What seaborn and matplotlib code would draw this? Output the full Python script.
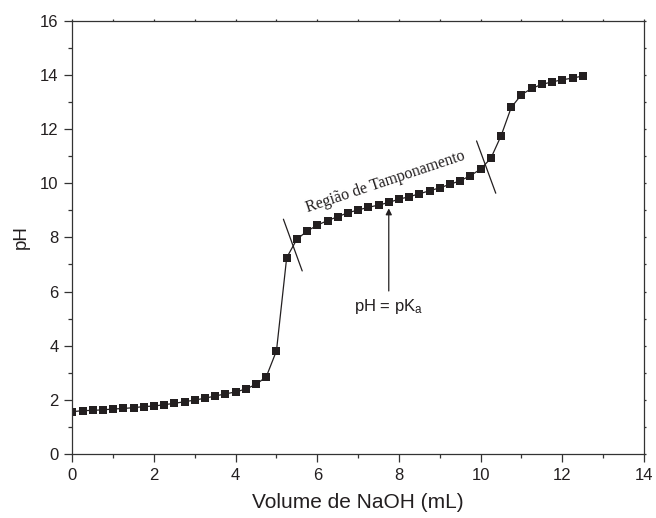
import matplotlib
matplotlib.use("Agg")
import matplotlib.pyplot as plt
import numpy as np
import pandas as pd
import seaborn as sns
from matplotlib.ticker import MultipleLocator

# Dados da curva de titulação (volume de NaOH em mL, pH)
volume = [0.0, 0.25, 0.5, 0.75, 1.0, 1.25, 1.5, 1.75, 2.0, 2.25,
          2.5, 2.75, 3.0, 3.25, 3.5, 3.75, 4.0, 4.25, 4.5, 4.75,
          5.0, 5.25, 5.5, 5.75, 6.0, 6.25, 6.5, 6.75, 7.0, 7.25,
          7.5, 7.75, 8.0, 8.25, 8.5, 8.75, 9.0, 9.25, 9.5, 9.75,
          10.0, 10.25, 10.5, 10.75, 11.0, 11.25, 11.5, 11.75, 12.0, 12.25,
          12.5]
ph = [1.56, 1.60, 1.61, 1.63, 1.66, 1.68, 1.71, 1.75, 1.77, 1.82,
      1.87, 1.93, 1.99, 2.06, 2.14, 2.22, 2.29, 2.40, 2.57, 2.85,
      3.81, 7.25, 7.93, 8.23, 8.45, 8.62, 8.76, 8.91, 9.01, 9.11,
      9.19, 9.29, 9.41, 9.50, 9.61, 9.72, 9.83, 9.96, 10.09, 10.28,
      10.52, 10.92, 11.75, 12.80, 13.27, 13.50, 13.65, 13.74, 13.82, 13.88,
      13.96]

# marcas de inicio/fim da regiao de tamponamento
marca1_x = [5.17, 5.63]
marca1_y = [8.67, 6.76]
marca2_x = [9.90, 10.37]
marca2_y = [11.56, 9.63]

pka_x = 7.75
pka_seta_y = [6.02, 9.07]

df = pd.DataFrame({"Volume": volume, "pH": ph})

sns.set_theme(style="ticks")
plt.rcParams["font.family"] = ["Liberation Sans", "DejaVu Sans"]
plt.rcParams["mathtext.default"] = "regular"

cor_eixo = "#333333"

fig = plt.figure(figsize=(6.56, 5.18), dpi=100)
ax = fig.add_axes([0.1102, 0.1236, 0.8715, 0.8364])

sns.lineplot(data=df, x="Volume", y="pH", ax=ax, color="#231f20",
             linewidth=0.9, marker="s", markersize=6.3,
             markeredgewidth=0, markerfacecolor="#231f20")

ax.plot(marca1_x, marca1_y, color="#231f20", linewidth=0.9)
ax.plot(marca2_x, marca2_y, color="#231f20", linewidth=0.9)

ax.annotate("", xy=(pka_x, pka_seta_y[1]), xytext=(pka_x, pka_seta_y[0]),
            arrowprops=dict(arrowstyle="-|>", color="#231f20", lw=0.9,
                            mutation_scale=9, shrinkA=0, shrinkB=0))
ax.text(pka_x, 5.44, "pH = pK$_{a}$", ha="center", va="center",
        fontsize=12, color="#231f20")

ax.text(7.66, 10.04, "Região de Tamponamento", rotation=18.5,
        rotation_mode="anchor", ha="center", va="center",
        fontsize=11.5, color="#231f20",
        family=["Liberation Serif", "DejaVu Serif"])

ax.set_xlim(0, 14)
ax.set_ylim(0, 16)
ax.xaxis.set_major_locator(MultipleLocator(2))
ax.xaxis.set_minor_locator(MultipleLocator(1))
ax.yaxis.set_major_locator(MultipleLocator(2))
ax.yaxis.set_minor_locator(MultipleLocator(1))

ax.set_xlabel("Volume de NaOH (mL)", fontsize=15, color="#231f20", labelpad=7)
ax.set_ylabel("pH", fontsize=13.5, color="#231f20", labelpad=7)

for s in ax.spines.values():
    s.set_visible(True)
    s.set_color(cor_eixo)
    s.set_linewidth(0.9)

ax.tick_params(which="major", direction="out", length=6, width=0.9,
               color=cor_eixo, labelsize=12, labelcolor="#231f20",
               top=True, right=True, pad=4)
ax.tick_params(which="minor", direction="out", length=3, width=0.9,
               color=cor_eixo, top=True, right=True)
ax.tick_params(axis="x", which="both", labeltop=False)
ax.tick_params(axis="y", which="both", labelright=False)
# ticks curtos no topo e na direita
for t in ax.xaxis.get_major_ticks() + ax.xaxis.get_minor_ticks():
    t.tick2line.set_markersize(1.5)
for t in ax.yaxis.get_major_ticks() + ax.yaxis.get_minor_ticks():
    t.tick2line.set_markersize(1.5)

fig.savefig("out.png", dpi=100)
